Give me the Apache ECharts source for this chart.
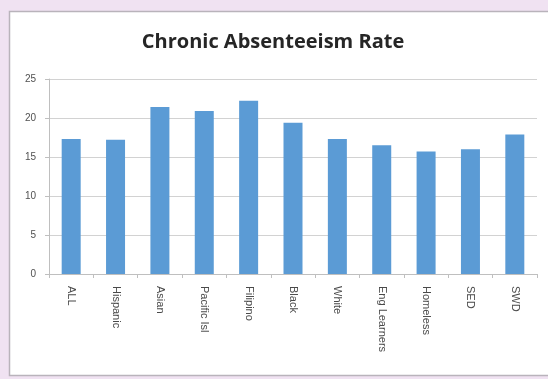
<!DOCTYPE html>
<html>
<head>
<meta charset="utf-8">
<style>
  html, body { margin: 0; padding: 0; background: #f0e2f2; }
  #chart { width: 548px; height: 379px; }
</style>
<script src="https://cdn.jsdelivr.net/npm/echarts@6/dist/echarts.min.js"></script>
</head>
<body>
<div id="chart"></div>
<script>
// Student groups and their chronic absenteeism rate (%)
const categories = ['ALL', 'Hispanic', 'Asian', 'Pacific Isl', 'Filipino', 'Black', 'White', 'Eng Learners', 'Homeless', 'SED', 'SWD'];
const rates = [17.3, 17.2, 21.4, 20.9, 22.2, 19.4, 17.3, 16.5, 15.7, 16.0, 17.9];
const yTicks = { min: 0, max: 25, interval: 5 };

const chart = echarts.init(document.getElementById('chart'), null, { renderer: 'canvas' });

chart.setOption({
  backgroundColor: '#f0e2f2',
  animation: false,
  graphic: [{
    type: 'rect',
    z: -10,
    shape: { x: 9.5, y: 11.5, width: 545, height: 364 },
    style: { fill: '#ffffff', stroke: '#b9b3bb', lineWidth: 1.5 }
  }],
  title: {
    text: 'Chronic Absenteeism Rate',
    left: 268,
    top: 27,
    textAlign: 'center',
    textStyle: {
      fontFamily: 'Open Sans',
      fontWeight: 'bold',
      fontSize: 20,
      color: '#262626'
    }
  },
  grid: { left: 49, right: 11, top: 79, bottom: 105 },
  xAxis: {
    type: 'category',
    data: categories,
    axisLine: { lineStyle: { color: '#bfbfbf' } },
    axisTick: { show: true, length: 4, lineStyle: { color: '#bfbfbf' } },
    axisLabel: {
      rotate: -90,
      fontSize: 11,
      fontFamily: 'Liberation Sans',
      color: '#4a4a4a',
      margin: 12
    }
  },
  yAxis: {
    type: 'value',
    min: yTicks.min,
    max: yTicks.max,
    interval: yTicks.interval,
    axisLine: { show: true, lineStyle: { color: '#bfbfbf' } },
    axisTick: { show: true, length: 4, lineStyle: { color: '#bfbfbf' } },
    splitLine: { lineStyle: { color: '#d2d2d2' } },
    axisLabel: {
      fontSize: 10,
      fontFamily: 'Liberation Sans',
      color: '#505050',
      margin: 13
    }
  },
  series: [{
    type: 'bar',
    data: rates,
    barWidth: 19,
    itemStyle: { color: '#5b9bd5' }
  }]
});
</script>
</body>
</html>
